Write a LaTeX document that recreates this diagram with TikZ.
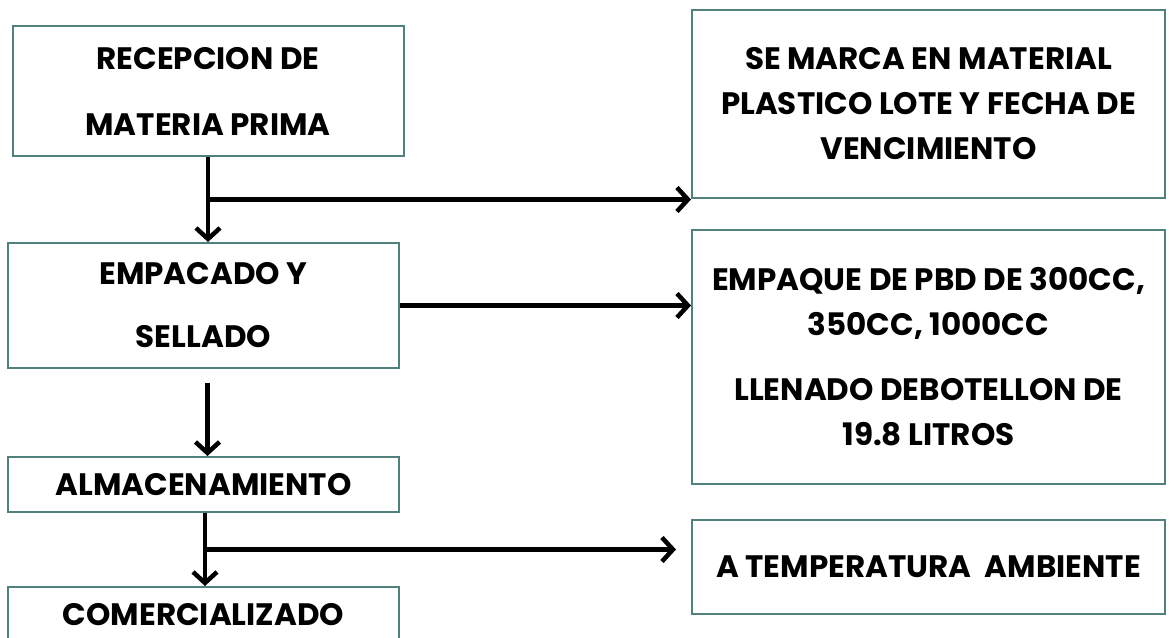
\documentclass[tikz,border=0pt]{standalone}
\usepackage{fontspec}
\setmainfont{Poppins}
\usetikzlibrary{arrows.meta,calc}
\definecolor{boxline}{RGB}{82,128,124}

\begin{document}
\begin{tikzpicture}[x=1pt,y=-1pt,
  paso/.style={draw=boxline,line width=2pt,minimum width=391pt,inner sep=0pt,align=center,font=\fontsize{31}{45}\selectfont\bfseries},
  nota/.style={paso,minimum width=473pt},
  flecha/.style={line width=4.5pt,-{Straight Barb[length=11pt,width=24pt]}}]
\clip (0,0) rectangle (1169,637);
\node[paso,minimum height=130pt] (recepcion) at (208,91) {RECEPCION DE\\[21pt]MATERIA PRIMA};
\node[paso,minimum height=125pt] (empacado) at (203.5,305.5) {EMPACADO Y\\[18pt]SELLADO};
\node[paso,minimum height=55pt] (almacen) at (203.5,484.5) {ALMACENAMIENTO};
\node[paso,minimum height=56pt] (comercio) at (203.5,615) {COMERCIALIZADO};
\node[nota,minimum height=188pt] (marca) at (928.5,104) {SE MARCA EN MATERIAL\\PLASTICO LOTE Y FECHA DE\\VENCIMIENTO};
\node[nota,minimum height=254pt] (empaque) at (928.5,357) {EMPAQUE DE PBD DE 300CC,\\350CC, 1000CC\\[20pt]LLENADO DEBOTELLON DE\\19.8 LITROS};
\node[nota,minimum height=94pt] (ambiente) at (928.5,567) {A TEMPERATURA~~AMBIENTE};
\coordinate (m1) at ($(recepcion.south)!0.5!(recepcion.south |- empacado.north)$);
\coordinate (m3) at ($(almacen.south)!0.5!(comercio.north)$);
\draw[flecha] (recepcion.south) -- (recepcion.south |- empacado.north);
\draw[flecha] (m1) -- (m1 -| marca.west);
\draw[flecha] (empacado.east) -- (empacado.east -| empaque.west);
\draw[flecha,shorten <=14pt] ([xshift=4pt]empacado.south) -- ([xshift=4pt]almacen.north);
\draw[flecha] ([xshift=1.5pt]almacen.south) -- ([xshift=1.5pt]comercio.north);
\draw[flecha,shorten >=15pt] ([xshift=1.5pt]m3) -- (m3 -| ambiente.west);
\end{tikzpicture}
\end{document}
